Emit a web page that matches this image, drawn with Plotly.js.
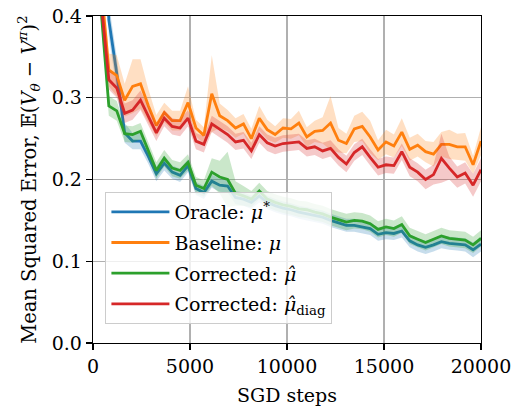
<!DOCTYPE html>
<html>
<head>
<meta charset="utf-8">
<script src="https://cdn.plot.ly/plotly-3.0.1.min.js"></script>
<style>html,body{margin:0;padding:0;background:#fff;}#chart{width:514px;height:411px;}</style>
</head>
<body>
<div id="chart"></div>
<script>
// SGD steps (50 evaluation points)
var steps = [0, 408, 816, 1224, 1633, 2041, 2449, 2857, 3265, 3673,
  4082, 4490, 4898, 5306, 5714, 6122, 6531, 6939, 7347, 7755,
  8163, 8571, 8980, 9388, 9796, 10204, 10612, 11020, 11429, 11837,
  12245, 12653, 13061, 13469, 13878, 14286, 14694, 15102, 15510, 15918,
  16327, 16735, 17143, 17551, 17959, 18367, 18776, 19184, 19592, 20000];

var oracleMean = [1.0, 0.62, 0.395, 0.330, 0.257, 0.247, 0.247, 0.228, 0.207, 0.220,
  0.209, 0.205, 0.217, 0.189, 0.184, 0.198, 0.193, 0.192, 0.178, 0.176,
  0.172, 0.180, 0.172, 0.168, 0.165, 0.163, 0.160, 0.158, 0.156, 0.154,
  0.150, 0.147, 0.144, 0.144, 0.142, 0.140, 0.133, 0.135, 0.134, 0.137,
  0.125, 0.120, 0.117, 0.120, 0.124, 0.122, 0.121, 0.120, 0.114, 0.121];
var oracleErr = [0.02, 0.02, 0.02, 0.02, 0.012, 0.01, 0.01, 0.009, 0.009, 0.009,
  0.008, 0.008, 0.008, 0.008, 0.008, 0.008, 0.008, 0.008, 0.008, 0.008,
  0.008, 0.008, 0.008, 0.008, 0.008, 0.008, 0.008, 0.008, 0.008, 0.008,
  0.008, 0.008, 0.008, 0.008, 0.008, 0.008, 0.008, 0.008, 0.008, 0.008,
  0.008, 0.008, 0.008, 0.008, 0.008, 0.008, 0.008, 0.008, 0.009, 0.009];

var baselineMean = [1.0, 0.44, 0.334, 0.327, 0.297, 0.314, 0.317, 0.290, 0.266, 0.282,
  0.272, 0.272, 0.294, 0.263, 0.254, 0.305, 0.278, 0.272, 0.263, 0.268,
  0.250, 0.275, 0.261, 0.255, 0.263, 0.262, 0.269, 0.252, 0.259, 0.260,
  0.269, 0.248, 0.244, 0.262, 0.265, 0.252, 0.236, 0.246, 0.241, 0.258,
  0.237, 0.242, 0.234, 0.231, 0.243, 0.243, 0.240, 0.240, 0.218, 0.247];
var baselineErr = [0.03, 0.03, 0.02, 0.025, 0.02, 0.033, 0.03, 0.02, 0.013, 0.012,
  0.012, 0.012, 0.02, 0.01, 0.01, 0.047, 0.015, 0.013, 0.012, 0.012,
  0.012, 0.015, 0.012, 0.01, 0.012, 0.012, 0.015, 0.012, 0.013, 0.016,
  0.033, 0.015, 0.012, 0.016, 0.018, 0.02, 0.012, 0.015, 0.014, 0.017,
  0.014, 0.014, 0.013, 0.015, 0.015, 0.018, 0.016, 0.017, 0.011, 0.017];

var correctedMean = [1.0, 0.41, 0.290, 0.284, 0.256, 0.255, 0.259, 0.236, 0.211, 0.226,
  0.214, 0.211, 0.221, 0.193, 0.189, 0.209, 0.203, 0.200, 0.183, 0.180,
  0.176, 0.186, 0.176, 0.172, 0.169, 0.167, 0.164, 0.163, 0.160, 0.158,
  0.154, 0.151, 0.148, 0.150, 0.149, 0.146, 0.139, 0.142, 0.140, 0.145,
  0.131, 0.127, 0.123, 0.127, 0.131, 0.128, 0.127, 0.126, 0.120, 0.128];
var correctedErr = [0.02, 0.015, 0.012, 0.012, 0.01, 0.01, 0.01, 0.01, 0.01, 0.01,
  0.01, 0.01, 0.01, 0.01, 0.01, 0.017, 0.02, 0.034, 0.015, 0.012,
  0.01, 0.01, 0.01, 0.01, 0.01, 0.01, 0.01, 0.01, 0.01, 0.01,
  0.01, 0.01, 0.01, 0.01, 0.01, 0.01, 0.01, 0.01, 0.01, 0.01,
  0.01, 0.01, 0.01, 0.01, 0.01, 0.01, 0.01, 0.01, 0.01, 0.01];

var diagMean = [1.0, 0.42, 0.322, 0.312, 0.281, 0.285, 0.297, 0.277, 0.257, 0.275,
  0.265, 0.263, 0.275, 0.247, 0.243, 0.268, 0.261, 0.255, 0.246, 0.248,
  0.235, 0.255, 0.245, 0.241, 0.244, 0.245, 0.246, 0.238, 0.240, 0.235,
  0.238, 0.227, 0.219, 0.233, 0.240, 0.227, 0.215, 0.218, 0.217, 0.234,
  0.215, 0.209, 0.200, 0.206, 0.226, 0.214, 0.203, 0.208, 0.193, 0.212];
var diagErr = [0.02, 0.015, 0.012, 0.012, 0.012, 0.012, 0.012, 0.011, 0.01, 0.01,
  0.01, 0.01, 0.01, 0.01, 0.01, 0.01, 0.01, 0.01, 0.01, 0.01,
  0.01, 0.01, 0.01, 0.01, 0.01, 0.01, 0.01, 0.01, 0.01, 0.01,
  0.01, 0.01, 0.01, 0.01, 0.01, 0.01, 0.01, 0.01, 0.01, 0.01,
  0.011, 0.011, 0.012, 0.012, 0.03, 0.014, 0.013, 0.013, 0.014, 0.014];

var seriesNames = ['Oracle: <i>μ</i><sup>*</sup>', 'Baseline: <i>μ</i>',
  'Corrected: <i>μ̂</i>', 'Corrected: <i>μ̂</i><sub>diag</sub>'];
var seriesColors = ['#1f77b4', '#ff7f0e', '#2ca02c', '#d62728'];
var bandColors = ['rgba(31,119,180,0.25)', 'rgba(255,127,14,0.25)', 'rgba(44,160,44,0.25)', 'rgba(214,39,40,0.25)'];

var xTickVals = [0, 5000, 10000, 15000, 20000];
var xTickText = ['0', '5000', '10000', '15000', '20000'];
var yTickVals = [0, 0.1, 0.2, 0.3, 0.4];
var yTickText = ['0.0', '0.1', '0.2', '0.3', '0.4'];

var means = [oracleMean, baselineMean, correctedMean, diagMean];
var errs = [oracleErr, baselineErr, correctedErr, diagErr];

var traces = [];
for (var s = 0; s < means.length; s++) {
  var up = means[s].map(function (v, i) { return v + errs[s][i]; });
  var lo = means[s].map(function (v, i) { return v - errs[s][i]; });
  var grp = 'g' + s;
  traces.push({x: steps, y: up, mode: 'lines', line: {width: 0, color: bandColors[s]},
    showlegend: false, hoverinfo: 'skip', legendgroup: grp});
  traces.push({x: steps, y: lo, mode: 'lines', line: {width: 0, color: bandColors[s]},
    fill: 'tonexty', fillcolor: bandColors[s], showlegend: false, hoverinfo: 'skip', legendgroup: grp});
  traces.push({x: steps, y: means[s], mode: 'lines', name: seriesNames[s], legendgroup: grp,
    line: {color: seriesColors[s], width: 2.8}});
}

var font = 'DejaVu Serif';
var axisCommon = {
  showgrid: true, gridcolor: '#b0b0b0', gridwidth: 1.2,
  showline: true, linecolor: '#000', linewidth: 1.3, mirror: true,
  ticks: 'outside', ticklen: 6, tickwidth: 1.3, tickcolor: '#000',
  zeroline: false, tickfont: {family: font, size: 19, color: '#000'}
};

var layout = {
  width: 514, height: 411,
  margin: {l: 93, r: 33, t: 16, b: 68},
  paper_bgcolor: '#fff', plot_bgcolor: '#fff',
  font: {family: font, size: 19, color: '#000'},
  xaxis: Object.assign({}, axisCommon, {
    range: [0, 20000], tickmode: 'array', tickvals: xTickVals, ticktext: xTickText,
    title: {text: 'SGD steps', font: {family: font, size: 19, color: '#000'}, standoff: 12}
  }),
  yaxis: Object.assign({}, axisCommon, {
    range: [0, 0.4], tickmode: 'array', tickvals: yTickVals, ticktext: yTickText,
    title: {text: 'Mean Squared Error, 𝔼(<i>V</i><sub><i>θ</i></sub> − <i>V</i><sup><i>π</i></sup>)<sup>2</sup>',
      font: {family: font, size: 19.5, color: '#000'}, standoff: 10}
  }),
  legend: {
    x: 0.032, y: 0.462, xanchor: 'left', yanchor: 'top',
    traceorder: 'grouped', tracegroupgap: 3, itemwidth: 58,
    bgcolor: 'rgba(255,255,255,0.8)', bordercolor: '#cccccc', borderwidth: 1,
    font: {family: font, size: 19, color: '#000'}
  },
  showlegend: true
};

Plotly.newPlot('chart', traces, layout, {staticPlot: true, displayModeBar: false});
</script>
</body>
</html>
